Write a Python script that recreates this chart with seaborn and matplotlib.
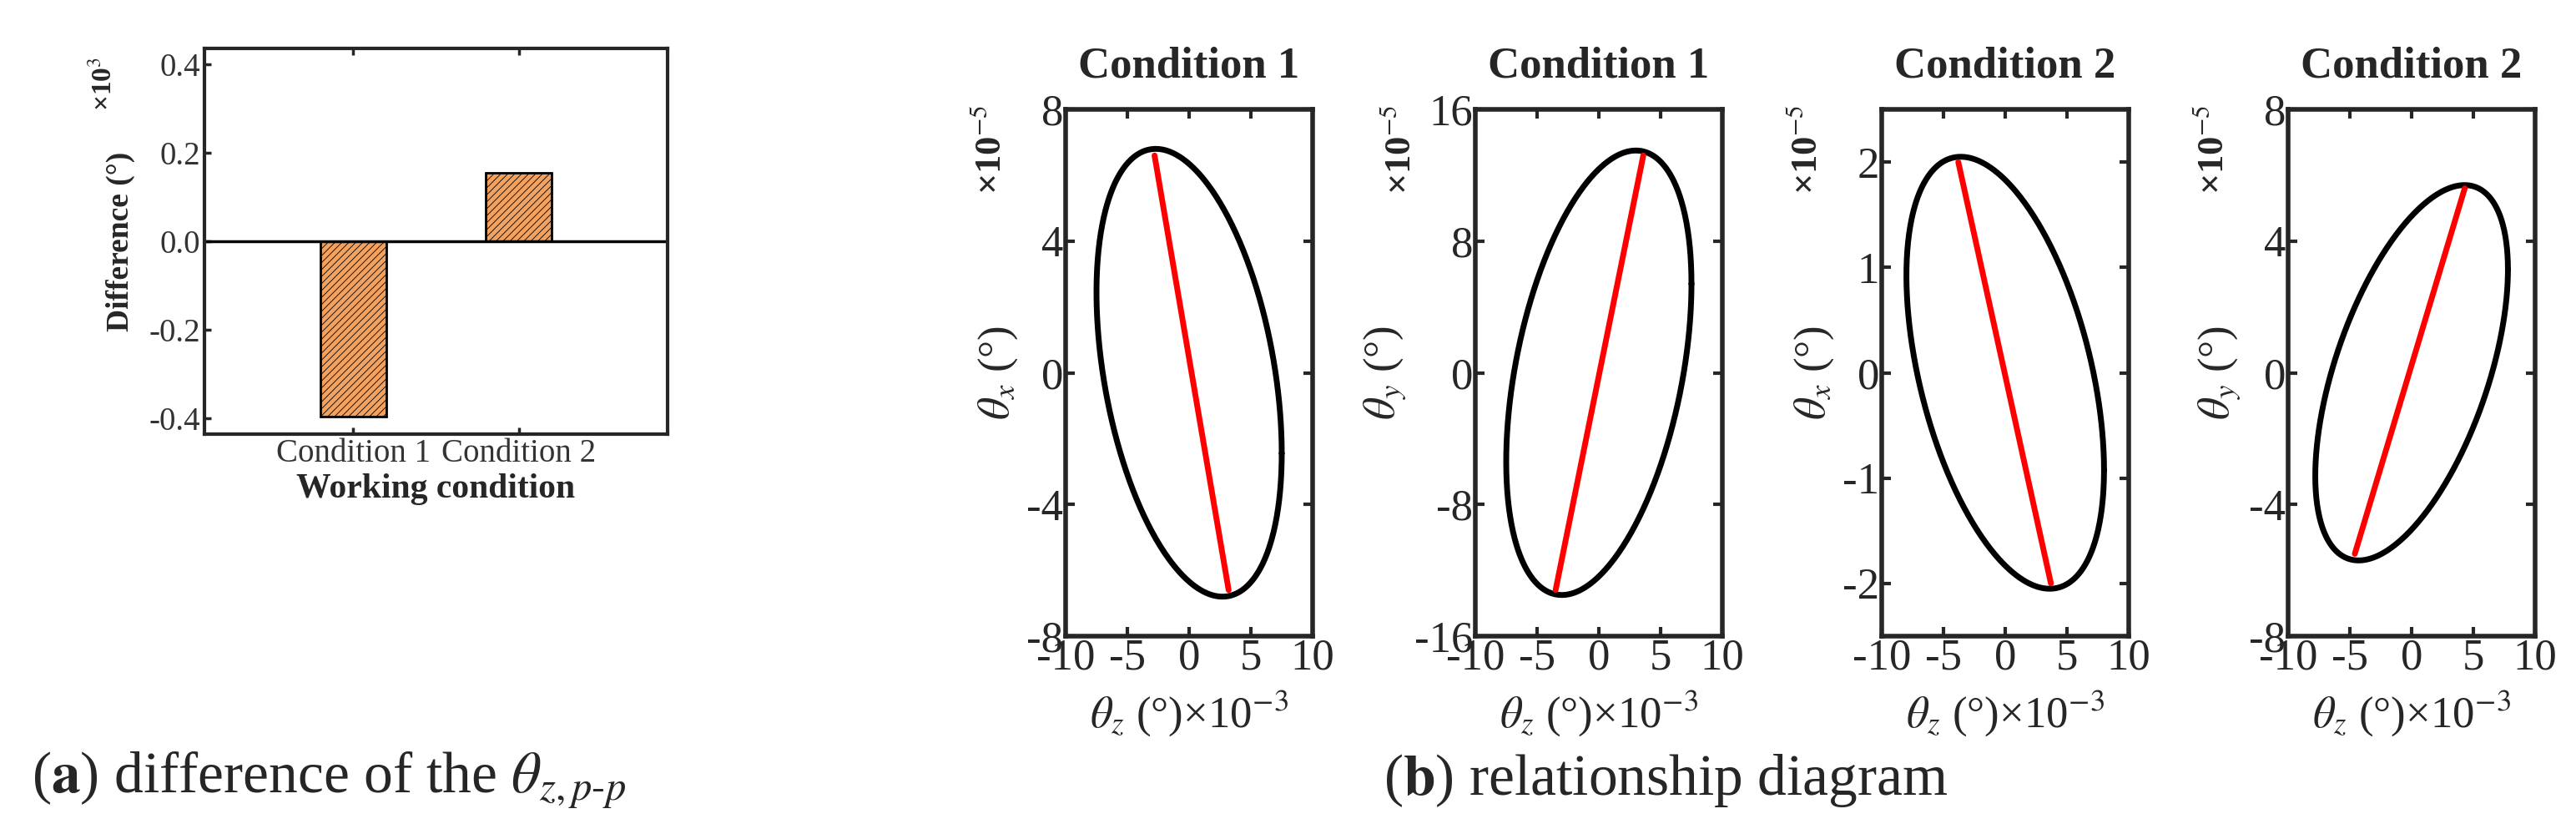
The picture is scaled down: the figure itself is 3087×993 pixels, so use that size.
import numpy as np
import pandas as pd
import seaborn as sns
import matplotlib.pyplot as plt

# bar data (a)
conditions = ['Condition 1', 'Condition 2']
differences = [-0.395, 0.155]

# ellipse panels (b): x amplitude, y amplitude, cos of phase, y-limit, ticks
panel_titles = ['Condition 1', 'Condition 1', 'Condition 2', 'Condition 2']
panel_ylabels = [r'$\theta_x$ (°)', r'$\theta_y$ (°)', r'$\theta_x$ (°)', r'$\theta_y$ (°)']
x_amp = [7.5, 7.5, 8.0, 7.8]
y_amp = [6.8, 13.5, 2.05, 5.7]
cos_phase = [-0.36, 0.40, -0.45, 0.55]
y_lims = [8, 16, 2.5, 8]
y_ticks = [[-8, -4, 0, 4, 8], [-16, -8, 0, 8, 16], [-2, -1, 0, 1, 2], [-8, -4, 0, 4, 8]]
line_ends = [(-2.8, 6.6, 3.2, -6.6), (-3.5, -13.2, 3.6, 13.2),
             (-3.8, 2.0, 3.7, -2.0), (-4.6, -5.5, 4.3, 5.6)]
x_ticks = [-10, -5, 0, 5, 10]

sns.set_style('ticks')
plt.rcParams['font.family'] = ['Liberation Serif', 'DejaVu Serif']
plt.rcParams['mathtext.fontset'] = 'stix'
plt.rcParams['axes.unicode_minus'] = False
plt.rcParams['hatch.color'] = '#E89A5A'
plt.rcParams['hatch.linewidth'] = 0.6

fig = plt.figure(figsize=(30.87, 9.93), dpi=100)
W, H = 3087, 993

def ax_at(l, t, r, b):
    return fig.add_axes([l / W, 1 - b / H, (r - l) / W, (b - t) / H])

# (a)
ax = ax_at(245, 58, 800, 520)
df = pd.DataFrame({'cond': conditions, 'diff': differences})
sns.barplot(data=df, x='cond', y='diff', ax=ax, color='#F2A25E', width=0.4,
            edgecolor='black', linewidth=2, saturation=1, hatch='////')
ax.axhline(0, color='black', lw=2.5)
ax.set_ylim(-0.435, 0.435)
ax.set_xlim(-0.9, 1.9)
ax.set_yticks([-0.4, -0.2, 0.0, 0.2, 0.4])
ax.set_yticklabels(['-0.4', '-0.2', '0.0', '0.2', '0.4'], color='#333333')
ax.tick_params(labelsize=28, width=2.5, length=6, direction='in', top=True)
ax.set_xticks([0, 1])
ax.set_xticklabels(conditions, fontsize=28, color='#333333')
ax.set_xlabel('Working condition', fontsize=30, fontweight='bold')
ax.set_ylabel('Difference (°)', fontsize=27, fontweight='bold', labelpad=12)
for s in ax.spines.values():
    s.set_linewidth(3)
fig.text(108 / W, 1 - 68 / H, r'×10$^3$', rotation=90, fontsize=24, fontweight='bold', va='top')

# (b)
lefts = [1277, 1768, 2255, 2742]
t = np.linspace(0, 2 * np.pi, 400)
for i in range(4):
    ax = ax_at(lefts[i], 131, lefts[i] + 296, 762)
    phi = np.arccos(cos_phase[i])
    xs = x_amp[i] * np.cos(t)
    ys = y_amp[i] * np.cos(t - phi)
    sns.lineplot(x=xs, y=ys, sort=False, estimator=None, ax=ax, color='black', lw=5)
    x0, y0, x1, y1 = line_ends[i]
    sns.lineplot(x=[x0, x1], y=[y0, y1], sort=False, estimator=None, ax=ax, color='red', lw=5)
    ax.set_xlim(-10, 10)
    ax.set_ylim(-y_lims[i], y_lims[i])
    ax.set_xticks(x_ticks)
    ax.set_yticks(y_ticks[i])
    ax.tick_params(labelsize=38, width=3, length=8, direction='in', top=True, right=True, pad=2)
    ax.set_title(panel_titles[i], fontsize=38, fontweight='bold', pad=28)
    ax.set_xlabel(r'$\theta_z$ (°)×10$^{-3}$', fontsize=38, labelpad=8)
    ax.set_ylabel(panel_ylabels[i], fontsize=38, labelpad=6)
    for s in ax.spines.values():
        s.set_linewidth(4)
    fig.text((lefts[i] - 110) / W, 1 - 125 / H, r'×10$^{-5}$', rotation=90, fontsize=32,
             fontweight='bold', va='top')

fig.text(38 / W, 1 - 935 / H, r'($\mathbf{a}$) difference of the $\theta_{z,p\text{-}p}$',
         fontsize=50, va='center')
fig.text(1658 / W, 1 - 935 / H, r'($\mathbf{b}$) relationship diagram', fontsize=50, va='center')

fig.savefig('out.png', dpi=100)
